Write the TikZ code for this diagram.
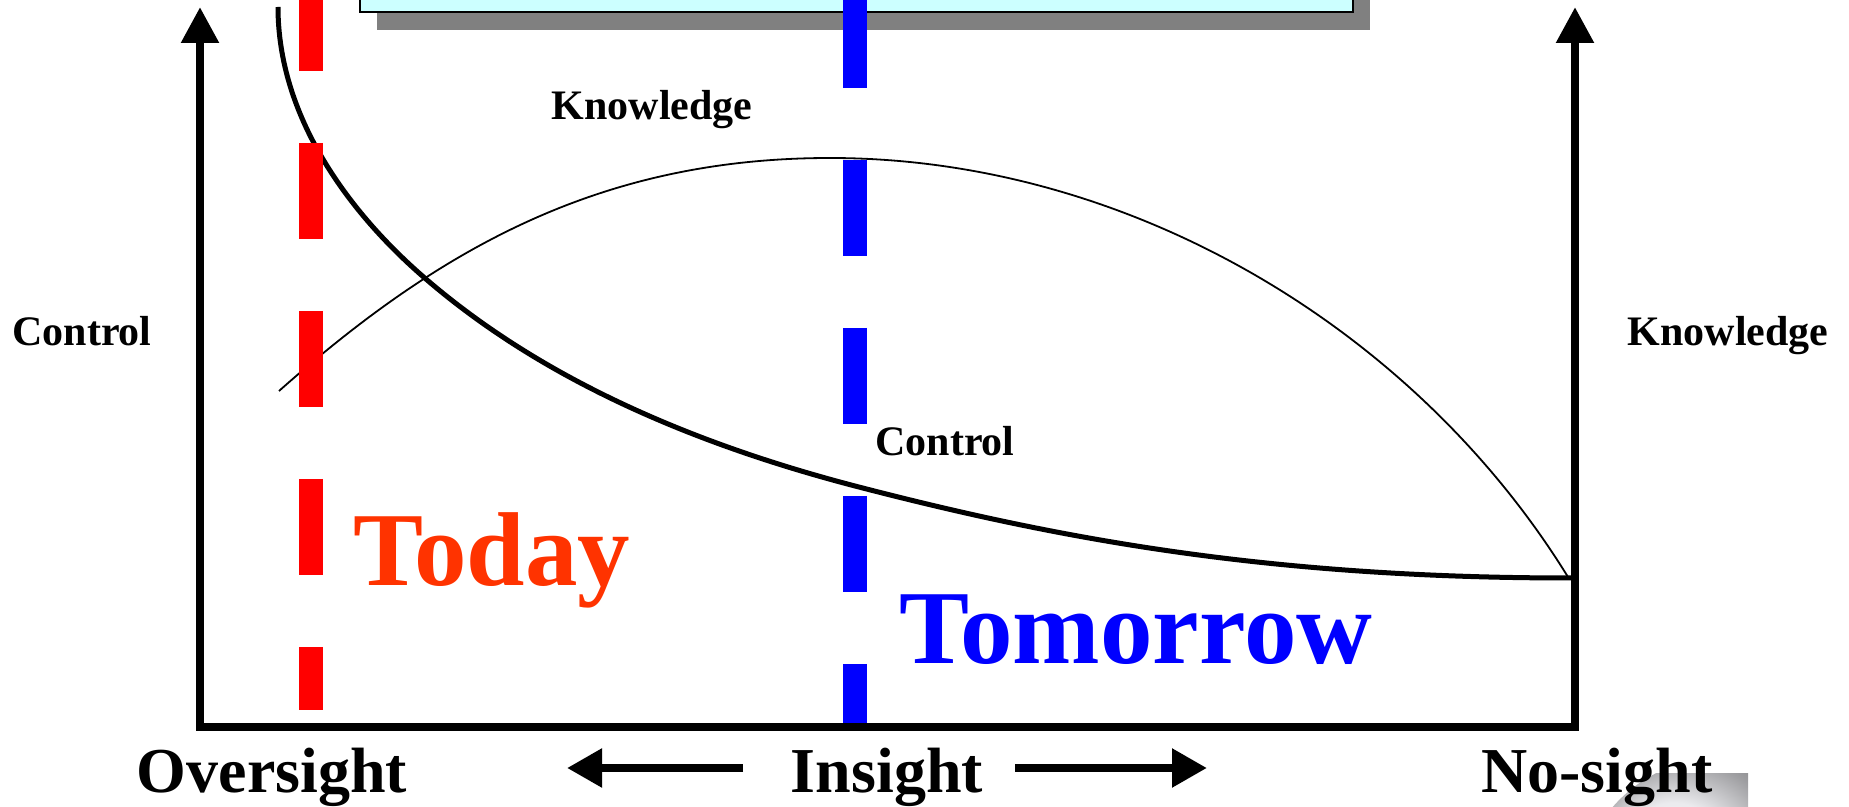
\documentclass[tikz,border=0pt]{standalone}
\usepackage{fontspec}
\setmainfont{Liberation Serif}
\usepackage{tikz}
\usetikzlibrary{arrows, arrows.meta, positioning, calc, shadows, shadings}
\definecolor{today-color}{RGB}{255,51,0}
\definecolor{box-color}{RGB}{204,255,255}
\definecolor{shadow-color}{RGB}{128,128,128}
\tikzstyle{smalllabel} = [font=\fontsize{21}{25}\selectfont\bfseries, inner sep=0pt, anchor=base]
\tikzstyle{sightlabel} = [font=\fontsize{32}{38}\selectfont\bfseries, inner sep=0pt, anchor=base]
\tikzstyle{daylabel} = [font=\fontsize{52.5}{60}\selectfont\bfseries, inner sep=0pt, anchor=base]
\tikzstyle{titlebox} = [rectangle, draw, line width=0.7pt, fill=box-color, minimum width=496.5pt, minimum height=36pt,
    drop shadow={shadow xshift=8.5pt, shadow yshift=-9pt, fill=shadow-color, opacity=1}]
\tikzstyle{axis} = [line width=4.2pt, line join=miter, {Triangle[width=18pt,length=18pt]}-{Triangle[width=18pt,length=18pt]}]
\tikzstyle{timeline}[red] = [#1, line width=12pt, dash pattern=on 48pt off 36pt]
\tikzstyle{sightArrow} = [line width=4.2pt, -{Triangle[width=18.5pt,length=17.5pt]}]

\begin{document}
\begin{tikzpicture}[x=0.5pt, y=-0.5pt]
    \useasboundingbox (0,0) rectangle (1849,807);

    % title box, cut by the top edge
    \node[titlebox] (title) at (856.5,-24) {};

    % globe behind No-sight
    \begin{scope}
        \clip (1600,773) rectangle (1748,807);
        \shade[ball color=blue!8!gray!20] (1720,900) circle (142);
    \end{scope}

    % curves
    \draw[line width=2.5pt] (278,7) .. controls (278,117) and (349,211) .. (419,273)
        .. controls (529,370) and (675,439) .. (855,486)
        .. controls (1055,538) and (1265,578) .. (1571,578);
    \draw[line width=0.9pt] (279,391) .. controls (439,249) and (600,158) .. (830,158)
        .. controls (1130,158) and (1415,329) .. (1568,577);

    % today and tomorrow
    \draw[timeline=red] (311,-25) -- (311,710);
    \draw[timeline=blue] (855,-8) -- (855,727);

    % axes
    \coordinate (ltop) at (200,7);
    \coordinate (lcorner) at (200,727);
    \coordinate (rcorner) at (1575,727);
    \coordinate (rtop) at (1575,7);
    \draw[axis] (ltop) -- (lcorner) -- (rcorner) -- (rtop);

    \node[smalllabel] (knowtop) at (652,120) {Knowledge};
    \node[smalllabel] (ctrlleft) at (82,346) {Control};
    \node[smalllabel] (knowright) at (1728,346) {Knowledge};
    \node[smalllabel] (ctrlmid) at (945,456) {Control};

    \node[daylabel, text=today-color] (today) at (492,586) {Today};
    \node[daylabel, text=blue] (tomorrow) at (1136,663) {Tomorrow};

    \node[sightlabel] (oversight) at (272,792) {Oversight};
    \node[sightlabel] (insight) at (887,792) {Insight};
    \node[sightlabel] (nosight) at (1597,792) {No-sight};

    \coordinate (ltail) at (743,768);
    \coordinate (lhead) at (567,768);
    \coordinate (rtail) at (1015,768);
    \coordinate (rhead) at (1207,768);
    \draw[sightArrow] (ltail) -- (lhead);
    \draw[sightArrow] (rtail) -- (rhead);
\end{tikzpicture}
\end{document}
